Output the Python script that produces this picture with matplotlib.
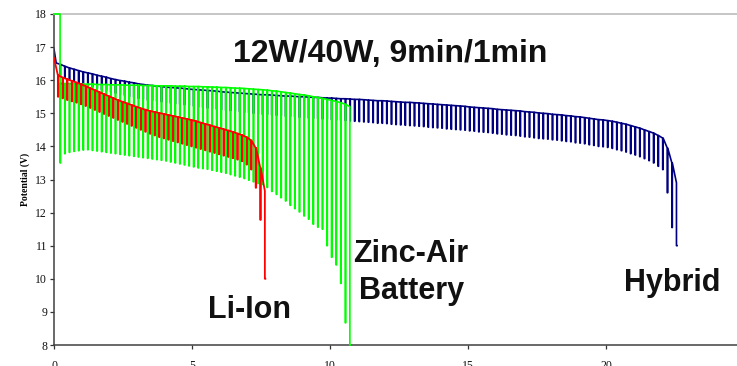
import matplotlib
matplotlib.use("Agg")
import matplotlib.pyplot as plt

# ---------------- data ----------------
# pulse protocol: 9 min at 12 W, then 1 min at 40 W  (time axis in hours)
period_h = 1.0 / 6.0
pulse_h = 1.0 / 60.0

# Hybrid
hyb_start_t = [0.0, 0.08]
hyb_start_v = [16.94, 16.52]
hyb_t0 = 0.22
hyb_rest = [16.48, 16.42, 16.37, 16.33, 16.29, 16.25, 16.22,
            16.19, 16.15, 16.12, 16.09, 16.05, 16.02,
            15.99, 15.97, 15.94, 15.92, 15.89, 15.87,
            15.85, 15.84, 15.82, 15.81, 15.79, 15.78,
            15.77, 15.76, 15.75, 15.73, 15.72, 15.71,
            15.70, 15.69, 15.68, 15.67, 15.65, 15.64,
            15.63, 15.62, 15.61, 15.60, 15.59, 15.58,
            15.57, 15.56, 15.56, 15.55, 15.54, 15.53,
            15.52, 15.52, 15.51, 15.50, 15.50, 15.49,
            15.48, 15.48, 15.47, 15.46, 15.46, 15.45,
            15.44, 15.44, 15.43, 15.42, 15.42, 15.41,
            15.40, 15.39, 15.38, 15.38, 15.37, 15.36,
            15.35, 15.34, 15.33, 15.33, 15.32, 15.31,
            15.30, 15.29, 15.28, 15.27, 15.26, 15.25,
            15.24, 15.23, 15.22, 15.21, 15.19, 15.18,
            15.17, 15.16, 15.15, 15.14, 15.12, 15.11,
            15.10, 15.09, 15.08, 15.07, 15.05, 15.04,
            15.03, 15.01, 15.00, 14.99, 14.97, 14.96,
            14.95, 14.93, 14.92, 14.90, 14.89, 14.87,
            14.85, 14.83, 14.81, 14.80, 14.78, 14.76,
            14.73, 14.70, 14.67, 14.63, 14.59, 14.55,
            14.50, 14.45, 14.40, 14.33,
            14.25, 13.95, 13.50, 12.90]
hyb_low = [16.13, 16.06, 16.01, 15.96, 15.92, 15.87, 15.84,
           15.80, 15.76, 15.72, 15.69, 15.64, 15.61,
           15.57, 15.55, 15.51, 15.49, 15.45, 15.43,
           15.40, 15.39, 15.36, 15.35, 15.32, 15.31,
           15.29, 15.28, 15.26, 15.24, 15.22, 15.19,
           15.18, 15.16, 15.15, 15.13, 15.11, 15.09,
           15.08, 15.06, 15.05, 15.03, 15.02, 15.00,
           14.99, 14.97, 14.97, 14.95, 14.94, 14.93,
           14.91, 14.91, 14.89, 14.88, 14.87, 14.86,
           14.85, 14.84, 14.83, 14.82, 14.81, 14.80,
           14.79, 14.78, 14.77, 14.76, 14.75, 14.74,
           14.73, 14.72, 14.70, 14.70, 14.69, 14.67,
           14.66, 14.65, 14.64, 14.63, 14.62, 14.61,
           14.60, 14.58, 14.57, 14.56, 14.55, 14.53,
           14.52, 14.51, 14.50, 14.49, 14.47, 14.46,
           14.44, 14.43, 14.42, 14.40, 14.38, 14.37,
           14.35, 14.34, 14.33, 14.31, 14.29, 14.28,
           14.26, 14.24, 14.23, 14.22, 14.20, 14.19,
           14.17, 14.15, 14.14, 14.11, 14.10, 14.08,
           14.05, 14.03, 14.00, 13.99, 13.97, 13.94,
           13.90, 13.87, 13.83, 13.78, 13.74, 13.69,
           13.63, 13.57, 13.50, 13.40,
           13.30, 12.60, 11.55, 11.00]

# Zinc-Air battery
zn_start_t = [0.0]
zn_start_v = [18.0]
zn_t0 = 0.22
zn_rest = [18.00,
           15.90, 15.90, 15.89, 15.89, 15.88, 15.88,
           15.88, 15.87, 15.87, 15.87, 15.86, 15.86,
           15.86, 15.85, 15.85, 15.85, 15.85, 15.84,
           15.84, 15.84, 15.83, 15.83, 15.83, 15.83,
           15.82, 15.82, 15.82, 15.81, 15.81, 15.81,
           15.80, 15.80, 15.79, 15.79, 15.78, 15.78,
           15.77, 15.76, 15.76, 15.75, 15.74, 15.73,
           15.72, 15.71, 15.70, 15.68, 15.67, 15.65,
           15.63, 15.61, 15.59, 15.57, 15.55, 15.53,
           15.50, 15.48, 15.45, 15.42, 15.39, 15.36,
           15.32, 15.27, 15.20]
zn_low = [13.50,
          13.78, 13.82, 13.85, 13.87, 13.89, 13.90,
          13.88, 13.86, 13.84, 13.82, 13.80, 13.78,
          13.76, 13.74, 13.72, 13.70, 13.68, 13.66,
          13.64, 13.62, 13.60, 13.58, 13.56, 13.53,
          13.50, 13.47, 13.44, 13.41, 13.38, 13.35,
          13.33, 13.31, 13.28, 13.25, 13.22, 13.19,
          13.15, 13.11, 13.07, 13.03, 12.98, 12.93,
          12.88, 12.85, 12.76, 12.64, 12.55, 12.45,
          12.35, 12.22, 12.12, 12.02, 11.90, 11.80,
          11.65, 11.56, 11.50, 11.00, 10.65, 10.42,
          9.86, 8.67, 8.00]

# Li-Ion
li_start_t = [0.0, 0.10]
li_start_v = [16.67, 16.30]
li_t0 = 0.14
li_rest = [16.15, 16.08, 16.03, 15.98, 15.93, 15.88, 15.82, 15.76, 15.70, 15.64,
           15.58, 15.52, 15.46, 15.40, 15.35, 15.30, 15.25, 15.20, 15.15, 15.11,
           15.07, 15.04, 15.01, 14.98, 14.95, 14.92, 14.89, 14.86, 14.83, 14.80,
           14.76, 14.72, 14.68, 14.64, 14.60, 14.56, 14.52, 14.48, 14.44, 14.39,
           14.34, 14.28, 14.18, 13.95, 13.35, 12.65]
li_low = [15.50, 15.45, 15.40, 15.36, 15.32, 15.27, 15.22, 15.16, 15.10, 15.04,
          14.98, 14.92, 14.86, 14.80, 14.74, 14.68, 14.62, 14.56, 14.50, 14.44,
          14.38, 14.33, 14.28, 14.24, 14.20, 14.16, 14.12, 14.08, 14.04, 14.00,
          13.96, 13.92, 13.88, 13.84, 13.80, 13.76, 13.72, 13.68, 13.64, 13.60,
          13.55, 13.45, 13.30, 12.75, 11.78, 10.00]

title_text = "12W/40W, 9min/1min"
labels = ["Li-Ion", "Zinc-Air", "Battery", "Hybrid"]
x_ticks = [0, 5, 10, 15, 20]
y_ticks = list(range(8, 19))
y_label = "Potential (V)"


def trace(start_t, start_v, t0, rest, low):
    """Pulse trace: rest level, drop for the 40 W minute, recover, drift down."""
    xs = list(start_t)
    ys = list(start_v)
    n = min(len(rest), len(low))
    for i in range(n):
        t = t0 + i * period_h
        xs += [t, t, t + pulse_h]
        ys += [rest[i], low[i], low[i]]
        if i + 1 < n:
            rec = rest[i] if rest[i] - rest[i + 1] < 1.0 else rest[i + 1]
            xs.append(t + pulse_h)
            ys.append(rec)
    return xs, ys


# ---------------- figure ----------------
W, H = 737, 366
fig = plt.figure(figsize=(W / 100, H / 100), dpi=100)
ax = fig.add_axes([54 / W, 1 - 345 / H, 1 - 54 / W, (345 - 14) / H])

hx, hy = trace(hyb_start_t, hyb_start_v, hyb_t0, hyb_rest, hyb_low)
ax.plot(hx, hy, color="#000080", lw=1.2, zorder=2)
zx, zy = trace(zn_start_t, zn_start_v, zn_t0, zn_rest, zn_low)
ax.plot(zx, zy, color="#00FF00", lw=1.2, zorder=3, clip_on=False)
lx, ly = trace(li_start_t, li_start_v, li_t0, li_rest, li_low)
ax.plot(lx, ly, color="#FF0000", lw=1.3, zorder=4)

ax.set_xlim(0, (W - 54) / 27.6)
ax.set_ylim(8, 18)

serif = ["Liberation Serif", "DejaVu Serif"]
ax.set_xticks(x_ticks)
ax.set_yticks(y_ticks)
ax.set_xticklabels([str(v) for v in x_ticks], fontfamily=serif, fontsize=8.5)
ax.set_yticklabels([str(v) for v in y_ticks], fontfamily=serif, fontsize=8.5)
ax.tick_params(axis="both", direction="out", length=3, width=0.9, colors="#333333",
               labelcolor="#111111")
ax.tick_params(axis="x", pad=8)
ax.tick_params(axis="y", pad=2)

for s in ["left", "bottom"]:
    ax.spines[s].set_color("#404040")
    ax.spines[s].set_linewidth(1.1)
ax.spines["right"].set_visible(False)
ax.spines["top"].set_color("#c0c0c0")
ax.spines["top"].set_linewidth(1.3)

ax.set_ylabel(y_label, fontfamily=serif, fontweight="bold", fontsize=7, labelpad=4)

sans = ["Liberation Sans", "DejaVu Sans"]
ax.text(12.17, 16.55, title_text, ha="center", va="baseline", fontsize=23,
        fontweight="bold", fontfamily=sans, color="#111111")
ax.text(7.08, 8.82, labels[0], ha="center", va="baseline", fontsize=22,
        fontweight="bold", fontfamily=sans, color="#111111")
ax.text(12.93, 10.51, labels[1], ha="center", va="baseline", fontsize=22,
        fontweight="bold", fontfamily=sans, color="#111111")
ax.text(12.95, 9.39, labels[2], ha="center", va="baseline", fontsize=22,
        fontweight="bold", fontfamily=sans, color="#111111")
ax.text(22.39, 9.63, labels[3], ha="center", va="baseline", fontsize=22,
        fontweight="bold", fontfamily=sans, color="#111111")

fig.savefig("out.png", dpi=100)
